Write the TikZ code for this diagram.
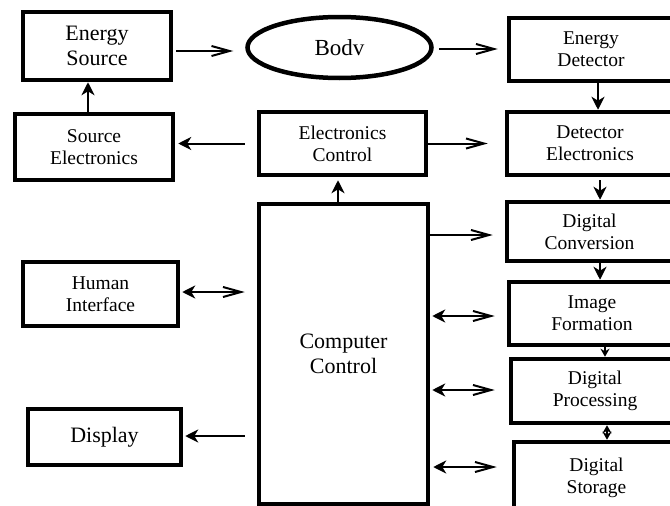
\documentclass[tikz,border=0pt]{standalone}
\usepackage{fontspec}
\setmainfont{Liberation Serif}
\newfontfamily\serf{Liberation Serif}
\usetikzlibrary{arrows.meta,calc,shapes.geometric}
\begin{document}
\begin{tikzpicture}[x=1pt,y=-1pt,
  blk/.style={draw,line width=4.5pt,rectangle,inner sep=0pt,align=center},
  sm/.style={font=\serf\fontsize{19.5}{22}\selectfont},
  lg/.style={font=\serf\fontsize{22}{25}\selectfont},
  conn/.style={line width=2pt},
  st/.style={conn,-{Stealth[length=13pt,width=13pt,inset=4pt]}},
  stst/.style={conn,{Stealth[length=13pt,width=13pt,inset=4pt]}-{Straight Barb[length=18pt,width=10pt]}},
  bb/.style={conn,-{Straight Barb[length=18pt,width=10pt]}},
  small/.style={conn,-{Stealth[length=8pt,width=9pt,inset=2.5pt]}},
  smalldbl/.style={conn,{Stealth[length=8pt,width=9pt,inset=2.5pt]}-{Stealth[length=8pt,width=9pt,inset=2.5pt]}}]
\useasboundingbox (0,0) rectangle (670,506);
% nodes
\node[blk,lg,minimum width=148pt,minimum height=68pt] (ES) at (97,46) {Energy\\Source};
\node[blk,sm,minimum width=158pt,minimum height=66pt] (SE) at (94,147) {Source\\Electronics};
\node[blk,sm,minimum width=167pt,minimum height=63pt] (EC) at (342.5,143.5) {Electronics\\Control};
\node[draw,ellipse,line width=4.5pt,inner sep=0pt,minimum width=184pt,minimum height=61pt,font=\serf\fontsize{23}{26}\selectfont] (Body) at (339.5,47.5) {Bodv};
\node[blk,sm,minimum width=164pt,minimum height=63pt] (ED) at (591,49.5) {Energy\\Detector};
\node[blk,sm,minimum width=166pt,minimum height=63pt] (DE) at (590,143.5) {Detector\\Electronics};
\node[blk,sm,minimum width=165pt,minimum height=59pt] (DC) at (589.5,231.5) {Digital\\Conversion};
\node[blk,sm,minimum width=166pt,minimum height=63pt] (IF) at (592,313.5) {Image\\Formation};
\node[blk,sm,minimum width=168pt,minimum height=64pt] (DP) at (595,391) {Digital\\Processing};
\node[blk,sm,minimum width=165pt,minimum height=72pt] (DS) at (596.5,478) {Digital\\Storage};
\node[blk,lg,minimum width=169pt,minimum height=300pt] (CC) at (343.5,354) {Computer\\Control};
\node[blk,sm,minimum width=155pt,minimum height=64pt] (HI) at (100.5,294) {Human\\Interface};
\node[blk,lg,minimum width=153pt,minimum height=56pt] (DI) at (104.5,437) {Display};
% connectors
\draw[st] ([xshift=-6pt]SE.north) -- ([xshift=-6pt]SE.north |- ES.south);
\draw[bb] ($(ES.east)+(3,5)$) -- ($(Body.west)+(-12,3.5)$);
\draw[bb] ($(Body.east)+(5,1.5)$) -- ($(ED.west)+(-9,-0.5)$);
\draw[st] ([xshift=7pt]ED.south) -- ([xshift=7pt]ED.south |- DE.north);
\draw[st,shorten <=12pt,shorten >=3pt] (EC.west) -- (EC.west -| SE.east);
\draw[bb,shorten >=17pt] (EC.east) -- (EC.east -| DE.west);
\draw[st,shorten >=3pt] ([xshift=-5.5pt]CC.north) -- ([xshift=-5.5pt]CC.north |- EC.south);
\draw[st,shorten <=3pt] ([xshift=10pt]DE.south) -- ([xshift=10pt]DE.south |- DC.north);
\draw[bb,shorten >=12pt] ($(CC.east |- DC.west)+(0,3.5)$) -- ($(DC.west)+(0,3.5)$);
\draw[st] ([xshift=10.5pt]DC.south) -- ([xshift=10.5pt]DC.south |- IF.north);
\draw[stst,shorten <=2pt,shorten >=12pt] ($(CC.east |- IF.west)+(0,2.5)$) -- ($(IF.west)+(0,2.5)$);
\draw[small] ([xshift=13pt]IF.south) -- ([xshift=13pt]IF.south |- DP.north);
\draw[stst,shorten <=2pt,shorten >=14pt] ($(CC.east |- DP.west)+(0,-1)$) -- ($(DP.west)+(0,-1)$);
\draw[smalldbl] ([xshift=12pt]DP.south) -- ([xshift=12pt]DP.south |- DS.north);
\draw[stst,shorten <=3pt,shorten >=15pt] ($(CC.east |- DS.west)+(0,-11)$) -- ($(DS.west)+(0,-11)$);
\draw[stst,shorten <=2pt,shorten >=12pt] ($(HI.east)+(0,-2)$) -- ($(HI.east -| CC.west)+(0,-2)$);
\draw[st,shorten >=2pt] ($(CC.west |- DI.east)+(-12,-1)$) -- ($(DI.east)+(0,-1)$);
\end{tikzpicture}
\end{document}
